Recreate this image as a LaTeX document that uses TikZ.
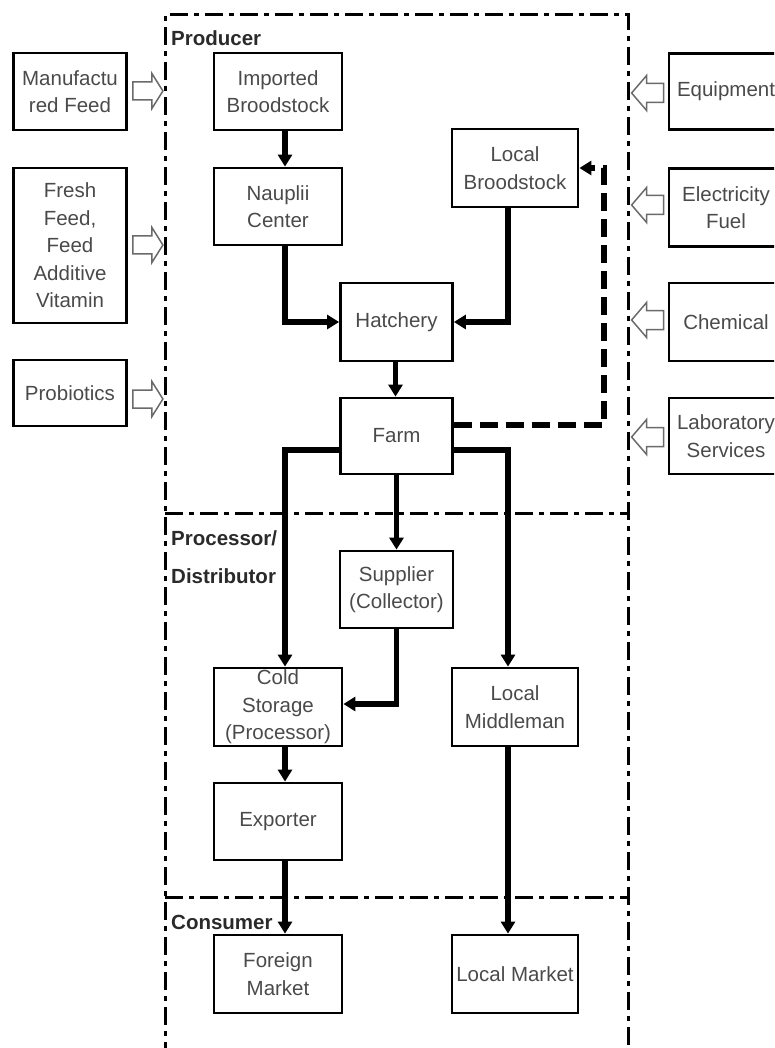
\documentclass[tikz,border=0pt]{standalone}
\usepackage{fontspec}
\setmainfont{Liberation Sans}
\usetikzlibrary{arrows.meta}
\definecolor{txt}{HTML}{4A4A4A}
\definecolor{labtxt}{HTML}{2A2A2A}
\definecolor{hol}{HTML}{6A6A6A}
\tikzset{
  box/.style={draw=black, line width=2.8pt, align=center, text=txt, inner sep=0pt,
    font=\fontsize{20.5}{27.5}\selectfont},
  lab/.style={anchor=west, text=labtxt, inner sep=0pt, font=\bfseries\fontsize{20.5}{24}\selectfont},
  conn/.style={line width=5.5pt, -{Triangle[length=12pt,width=14pt]}},
  dconn/.style={line width=5.5pt, dash pattern=on 18pt off 8pt, -{Triangle[length=12pt,width=14pt]}},
  frame/.style={line width=3pt, dash pattern=on 18pt off 6pt on 5pt off 6pt},
  hollow/.style={draw=hol, line width=1.5pt, line join=miter, fill=white},
}
\begin{document}
\begin{tikzpicture}[x=1pt,y=-1pt]
\useasboundingbox (0,0) rectangle (774,1048);
\clip (0,0) rectangle (774,1048);
% frame
\draw[frame] (165,1060) -- (165,15) -- (628,15) -- (628,1060);
\draw[frame] (165,513) -- (628,513);
\draw[frame] (165,897) -- (628,897);
% labels
\node[lab] (lprod) at (171,38) {Producer};
\node[lab] (lproc) at (171,538) {Processor/};
\node[lab] (ldist) at (171,576) {Distributor};
\node[lab] (lcons) at (171,922) {Consumer};
% left inputs
\node[box, minimum width=113pt, minimum height=77pt] (mf) at (70,91.5) {Manufactu\\red Feed};
\node[box, minimum width=113pt, minimum height=155pt] (fresh) at (70,245.5) {Fresh\\Feed,\\Feed\\Additive\\Vitamin};
\node[box, minimum width=113pt, minimum height=66pt] (pro) at (70,393) {Probiotics};
% right inputs
\node[box, minimum width=114pt, minimum height=76pt] (eq) at (726,91.5) {Equipment};
\node[box, minimum width=114pt, minimum height=78pt] (el) at (726,207.5) {Electricity\\Fuel};
\node[box, minimum width=114pt, minimum height=78pt] (ch) at (726,322) {Chemical};
\node[box, minimum width=114pt, minimum height=76pt] (lab) at (726,436) {Laboratory\\Services};
% main nodes
\node[box, minimum width=128pt, minimum height=77pt] (imp) at (278,91.5) {Imported\\Broodstock};
\node[box, minimum width=128pt, minimum height=77pt] (nau) at (278,206.5) {Nauplii\\Center};
\node[box, minimum width=126pt, minimum height=78pt] (lbr) at (515,168) {Local\\Broodstock};
\node[box, minimum width=112pt, minimum height=78pt] (hat) at (396.5,322) {Hatchery};
\node[box, minimum width=112pt, minimum height=76pt] (farm) at (396.5,436) {Farm};
\node[box, minimum width=113pt, minimum height=77pt] (sup) at (396.5,589.5) {Supplier\\(Collector)};
\node[box, minimum width=128pt, minimum height=78pt] (cold) at (278,707) {Cold\\Storage\\(Processor)};
\node[box, minimum width=126pt, minimum height=78pt] (mid) at (515,707) {Local\\Middleman};
\node[box, minimum width=128pt, minimum height=77pt] (exp) at (278,821.5) {Exporter};
\node[box, minimum width=128pt, minimum height=78pt] (for) at (278,974) {Foreign\\Market};
\node[box, minimum width=126pt, minimum height=78pt] (lmk) at (515,974) {Local Market};
% hollow input arrows (left, pointing right)
\coordinate (ha1) at (mf.east |- 0,91);
\coordinate (ha2) at (fresh.east |- 0,245);
\coordinate (ha3) at (pro.east |- 0,399);
\foreach \c in {ha1,ha2,ha3}{
  \draw[hollow] ([xshift=5pt,yshift=9pt]\c) -- ++(19,0) -- ++(0,-8.5) -- ++(11,17.5)
    -- ++(-11,17.5) -- ++(0,-8.5) -- ++(-19,0) -- cycle;
}
% hollow input arrows (right, pointing left)
\coordinate (hb1) at (eq.west |- 0,93);
\coordinate (hb2) at (el.west |- 0,205);
\coordinate (hb3) at (ch.west |- 0,320);
\coordinate (hb4) at (lab.west |- 0,437);
\foreach \c in {hb1,hb2,hb3,hb4}{
  \draw[hollow] ([xshift=-4pt,yshift=9.5pt]\c) -- ++(-17,0) -- ++(0,-8) -- ++(-15,17.5)
    -- ++(15,17.5) -- ++(0,-8) -- ++(17,0) -- cycle;
}
% connectors
\draw[conn] ([xshift=7pt]imp.south) -- ([xshift=7pt]nau.north);
\draw[conn] ([xshift=7pt]nau.south) |- (hat.west);
\draw[conn] ([xshift=-7pt]lbr.south) |- (hat.east);
\draw[conn] ([xshift=-1pt]hat.south) -- ([xshift=-1pt]farm.north);
\draw[dconn] ([yshift=11pt]farm.east) -- ++(150,0) |- (lbr.east);
\draw[conn] ([yshift=-14pt]farm.west) -| ([xshift=7pt]cold.north);
\draw[conn] (farm.south) -- (sup.north);
\draw[conn] ([yshift=-14pt]farm.east) -| ([xshift=-7pt]mid.north);
\draw[conn] (sup.south) |- ([yshift=3pt]cold.east);
\draw[conn] ([xshift=7pt]cold.south) -- ([xshift=7pt]exp.north);
\draw[conn] ([xshift=7pt]exp.south) -- ([xshift=7pt]for.north);
\draw[conn] ([xshift=-7pt]mid.south) -- ([xshift=-7pt]lmk.north);
\end{tikzpicture}
\end{document}
